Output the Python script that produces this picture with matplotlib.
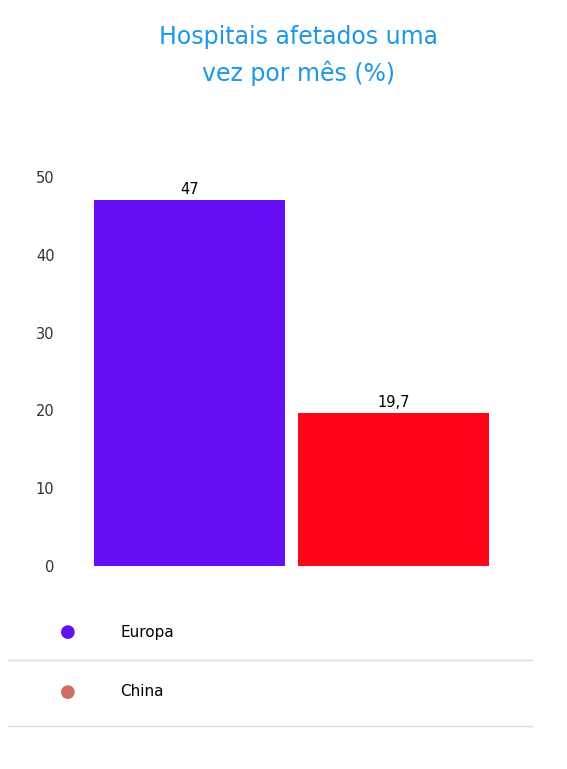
import matplotlib
matplotlib.use("Agg")
import matplotlib.pyplot as plt
from matplotlib.lines import Line2D

regions = ["Europa", "China"]
values = [47, 19.7]
labels = ["47", "19,7"]
bar_colors = ["#6510f4", "#ff0519"]
legend_colors = ["#6510f4", "#cd6e66"]

fig = plt.figure(figsize=(5.67, 7.69), dpi=100)
fig.text(0.526, 0.928, "Hospitais afetados uma\nvez por mês (%)", ha="center", va="center",
         color="#1e98e6", fontsize=17, linespacing=1.55)

ax = fig.add_axes([0.155, 0.264, 0.718, 0.506])
ax.bar(range(len(values)), values, width=0.94, color=bar_colors)
for i, (v, t) in enumerate(zip(values, labels)):
    ax.text(i, v + 0.4, t, ha="center", va="bottom", fontsize=10.5)
ax.set_xlim(-0.5, 1.5)
ax.set_ylim(0, 50)
ax.set_yticks(range(0, 51, 10))
ax.set_xticks([])
ax.tick_params(axis="y", length=0, pad=24, labelsize=10.5, labelcolor="#333333")
for s in ax.spines.values():
    s.set_visible(False)

for y, name, c in zip([632, 692], regions, legend_colors):
    fy = 1 - y / 769
    fig.text(68 / 567, fy, "●", color=c, fontsize=13, ha="center", va="center")
    fig.text(120 / 567, fy, name, fontsize=11, ha="left", va="center")
for y in [660, 726]:
    fy = 1 - y / 769
    fig.add_artist(Line2D([8 / 567, 532 / 567], [fy, fy], color="#dddddd", lw=1))

fig.savefig("out.png", dpi=100)
